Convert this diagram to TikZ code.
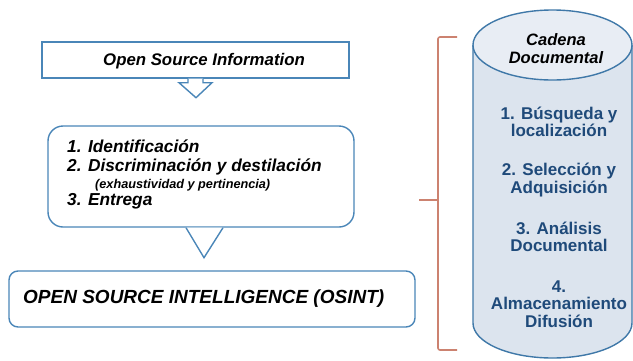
\documentclass[tikz,border=0pt]{standalone}
\usepackage{fontspec}
\setmainfont{Liberation Sans}
\definecolor{boxblue}{HTML}{4A86B8}
\definecolor{cylfill}{HTML}{DCE4EE}
\definecolor{cyltop}{HTML}{E8EDF4}
\definecolor{cylline}{HTML}{3F78A8}
\definecolor{itemblue}{HTML}{1F4A7A}
\definecolor{bracecol}{HTML}{CC8270}
\tikzset{
  blueline/.style={draw=boxblue, line width=1.4pt, line join=miter},
  plainbox/.style={blueline, fill=white, rectangle, inner sep=0pt},
  roundbox/.style={blueline, fill=white, rectangle, inner sep=0pt},
  lefttext/.style={font=\bfseries\itshape, inner sep=0pt, anchor=mid west},
  itemtext/.style={font=\fontsize{17}{17.5}\selectfont\bfseries, text=itemblue, align=center, inner sep=0pt},
  bracket/.style={draw=bracecol, line width=1.6pt}
}
\begin{document}
\begin{tikzpicture}[x=1pt,y=-1pt]
\useasboundingbox (0,0) rectangle (633,360);

% source box with its down arrow
\node[plainbox, minimum width=307pt, minimum height=36pt] (src) at (195.5,60) {};
\node[font=\fontsize{16.8}{18}\selectfont\bfseries\itshape, inner sep=0pt] (srctext) at (204,61) {Open Source Information};
\draw[blueline, fill=white] ([xshift=-7.5pt]src.south) -- ++(0,4) -- ++(-9,0)
  -- ([shift={(0.5,19)}]src.south) -- ([shift={(16.5,4)}]src.south) -- ++(-9,0)
  -- ([xshift=7.5pt]src.south);

% process steps
\node[roundbox, rounded corners=15pt, minimum width=306pt, minimum height=101pt] (steps) at (201,176.5) {};
\draw[blueline, fill=white] ([xshift=-15pt]steps.south) -- ([shift={(3,30)}]steps.south) -- ([xshift=22pt]steps.south);
\node[lefttext, font=\fontsize{17.3}{18}\selectfont\bfseries\itshape] (s1) at (67,150) {1. Identificación};
\node[lefttext, font=\fontsize{17.3}{18}\selectfont\bfseries\itshape] (s2) at (67,169) {2. Discriminación y destilación};
\node[lefttext, font=\fontsize{12.7}{14}\selectfont\bfseries\itshape] (s2b) at (95,186) {(exhaustividad y pertinencia)};
\node[lefttext, font=\fontsize{17.3}{18}\selectfont\bfseries\itshape] (s3) at (67,203) {3. Entrega};

% result
\node[roundbox, rounded corners=9pt, minimum width=406pt, minimum height=56pt] (osint) at (212,299) {};
\node[lefttext, font=\fontsize{19}{20}\selectfont\bfseries\itshape] (osinttext) at (23,301) {OPEN SOURCE INTELLIGENCE (OSINT)};

% bracket
\draw[bracket, rounded corners=2pt] (457,37) -- (438,37) -- (438,350) -- (457,350);
\draw[bracket] (419,200) -- (438,200);

% document chain cylinder
\fill[cylfill] (473,45) -- (473,323) arc[start angle=180, end angle=360, x radius=79.5pt, y radius=35pt] -- (632,45) -- cycle;
\draw[draw=cylline, line width=1.4pt] (473,45) -- (473,323) arc[start angle=180, end angle=360, x radius=79.5pt, y radius=35pt] -- (632,45);
\draw[draw=cylline, line width=1.4pt, fill=cyltop] (552.5,45) ellipse [x radius=79.5pt, y radius=35pt];
\node[font=\fontsize{16.5}{18}\selectfont\bfseries\itshape, align=center, inner sep=0pt] (chain) at (556,49) {Cadena\\Documental};

\node[itemtext] (c1) at (559,122) {1. Búsqueda y\\localización};
\node[itemtext] (c2) at (559,180) {2. Selección y\\Adquisición};
\node[itemtext] (c3) at (559,237) {3. Análisis\\Documental};
\node[itemtext] (c4) at (559,304) {4.\\Almacenamiento\\Difusión};
\end{tikzpicture}
\end{document}
